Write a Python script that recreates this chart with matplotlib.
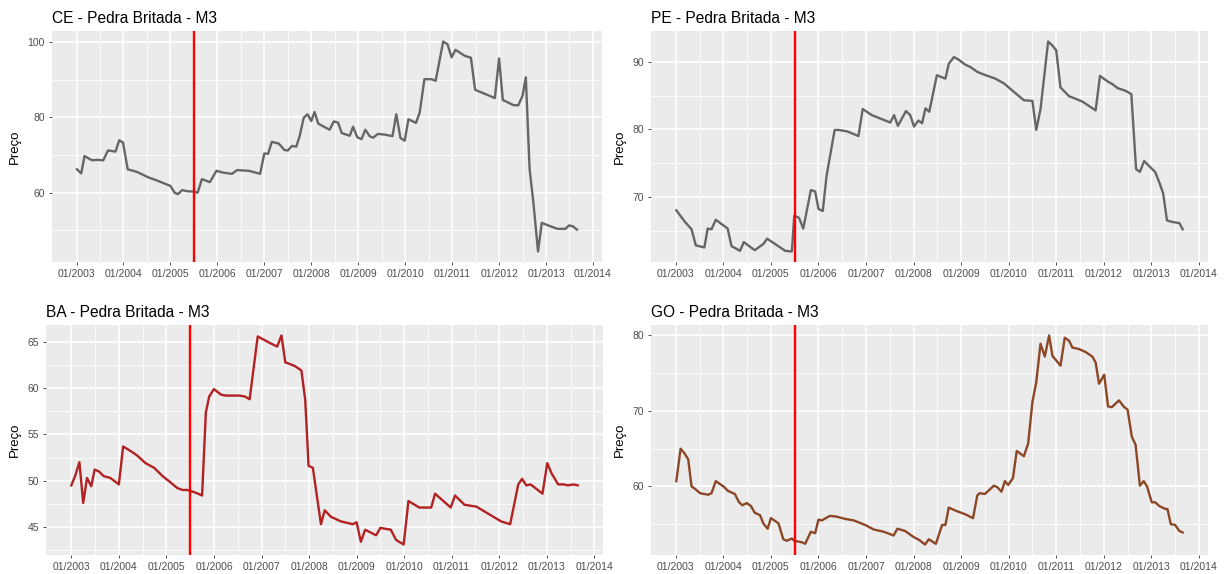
import matplotlib
matplotlib.use("Agg")
import matplotlib.pyplot as plt
from matplotlib.ticker import FixedLocator, NullFormatter

plt.rcParams['font.family'] = ['Liberation Sans', 'DejaVu Sans']

# ---------------- data (decimal year, price) ----------------
ce_t = [2003.01, 2003.10, 2003.17, 2003.33, 2003.44, 2003.57, 2003.67, 2003.83, 2003.91, 2003.99,
        2004.09, 2004.29, 2004.54, 2004.68, 2004.82, 2005.00, 2005.09, 2005.16, 2005.25, 2005.35,
        2005.50, 2005.58, 2005.67, 2005.84, 2005.98, 2006.13, 2006.31, 2006.42, 2006.67, 2006.91,
        2007.00, 2007.08, 2007.16, 2007.31, 2007.43, 2007.50, 2007.59, 2007.68, 2007.75, 2007.84,
        2007.92, 2008.00, 2008.07, 2008.15, 2008.39, 2008.48, 2008.57, 2008.65, 2008.82, 2008.89,
        2008.98, 2009.07, 2009.15, 2009.25, 2009.32, 2009.42, 2009.57, 2009.73, 2009.81, 2009.90,
        2009.99, 2010.07, 2010.23, 2010.31, 2010.41, 2010.56, 2010.65, 2010.81, 2010.90, 2010.99,
        2011.07, 2011.27, 2011.40, 2011.49, 2011.91, 2012.00, 2012.08, 2012.31, 2012.41, 2012.50,
        2012.57, 2012.65, 2012.73, 2012.83, 2012.91, 2013.09, 2013.25, 2013.41, 2013.49, 2013.57,
        2013.66]
ce_v = [66.2, 65.1, 69.7, 68.6, 68.7, 68.6, 71.2, 70.9, 73.9, 73.3,
        66.2, 65.5, 64.0, 63.4, 62.7, 61.8, 60.0, 59.6, 60.7, 60.4,
        60.3, 60.0, 63.6, 62.8, 65.8, 65.3, 65.0, 66.0, 65.8, 65.0,
        70.4, 70.3, 73.5, 73.0, 71.3, 71.2, 72.4, 72.2, 74.9, 79.9,
        80.8, 79.0, 81.4, 78.3, 76.7, 78.9, 78.6, 75.8, 75.1, 77.5,
        74.7, 74.2, 76.7, 74.9, 74.6, 75.6, 75.4, 75.0, 80.8, 74.5,
        73.8, 79.5, 78.5, 81.3, 90.1, 90.1, 89.7, 100.1, 99.4, 95.9,
        97.9, 96.3, 95.8, 87.3, 85.1, 95.6, 84.6, 83.2, 83.2, 85.7,
        90.6, 66.3, 57.5, 44.4, 52.0, 51.1, 50.4, 50.4, 51.3, 51.1,
        50.2]

pe_t = [2003.01, 2003.19, 2003.33, 2003.42, 2003.60, 2003.67, 2003.75, 2003.84, 2004.09, 2004.17,
        2004.35, 2004.43, 2004.52, 2004.66, 2004.84, 2004.92, 2005.09, 2005.30, 2005.44, 2005.49,
        2005.59, 2005.68, 2005.84, 2005.93, 2006.00, 2006.09, 2006.17, 2006.34, 2006.42, 2006.60,
        2006.84, 2006.93, 2007.12, 2007.30, 2007.51, 2007.59, 2007.67, 2007.84, 2007.93, 2008.01,
        2008.10, 2008.18, 2008.25, 2008.33, 2008.49, 2008.67, 2008.74, 2008.85, 2008.95, 2009.08,
        2009.20, 2009.34, 2009.48, 2009.72, 2009.90, 2010.15, 2010.32, 2010.50, 2010.58, 2010.67,
        2010.83, 2010.92, 2011.00, 2011.09, 2011.27, 2011.38, 2011.55, 2011.83, 2011.92, 2012.10,
        2012.18, 2012.29, 2012.46, 2012.58, 2012.68, 2012.76, 2012.85, 2012.99, 2013.08, 2013.17,
        2013.25, 2013.33, 2013.43, 2013.59, 2013.66]
pe_v = [68.0, 66.3, 65.2, 62.8, 62.5, 65.3, 65.2, 66.6, 65.3, 62.7,
        62.0, 63.3, 62.8, 62.1, 63.0, 63.8, 63.0, 62.0, 61.9, 67.2,
        66.9, 65.3, 71.0, 70.8, 68.2, 67.9, 73.1, 79.9, 79.9, 79.7,
        79.0, 83.0, 82.1, 81.6, 81.0, 82.1, 80.5, 82.7, 82.1, 80.4,
        81.3, 80.9, 83.1, 82.6, 88.0, 87.5, 89.7, 90.7, 90.3, 89.6,
        89.2, 88.5, 88.1, 87.5, 86.8, 85.3, 84.3, 84.2, 79.9, 83.0,
        93.0, 92.4, 91.7, 86.2, 84.9, 84.6, 84.1, 82.8, 87.9, 87.0,
        86.7, 86.1, 85.7, 85.2, 74.1, 73.7, 75.3, 74.3, 73.7, 72.1,
        70.5, 66.5, 66.3, 66.1, 65.2]

ba_t = [2003.00, 2003.08, 2003.17, 2003.25, 2003.33, 2003.42, 2003.49, 2003.58, 2003.68, 2003.82,
        2004.00, 2004.09, 2004.25, 2004.39, 2004.56, 2004.74, 2004.92, 2005.09, 2005.23, 2005.34,
        2005.44, 2005.62, 2005.75, 2005.83, 2005.90, 2006.00, 2006.15, 2006.25, 2006.39, 2006.54,
        2006.65, 2006.75, 2006.92, 2007.17, 2007.33, 2007.42, 2007.50, 2007.70, 2007.84, 2007.92,
        2007.99, 2008.08, 2008.25, 2008.33, 2008.46, 2008.67, 2008.92, 2009.00, 2009.09, 2009.18,
        2009.41, 2009.50, 2009.72, 2009.83, 2009.99, 2010.09, 2010.32, 2010.57, 2010.65, 2010.98,
        2011.07, 2011.27, 2011.52, 2012.04, 2012.23, 2012.40, 2012.48, 2012.57, 2012.66, 2012.91,
        2013.01, 2013.10, 2013.24, 2013.35, 2013.45, 2013.56, 2013.65]
ba_v = [49.5, 50.5, 52.0, 47.6, 50.3, 49.4, 51.2, 51.0, 50.5, 50.3,
        49.6, 53.7, 53.2, 52.7, 51.9, 51.4, 50.5, 49.8, 49.2, 49.0,
        49.0, 48.7, 48.4, 57.4, 59.1, 59.9, 59.3, 59.2, 59.2, 59.2,
        59.1, 58.8, 65.6, 64.9, 64.5, 65.7, 62.8, 62.4, 61.9, 58.7,
        51.6, 51.4, 45.3, 46.8, 46.1, 45.6, 45.3, 45.5, 43.4, 44.7,
        44.1, 44.9, 44.7, 43.6, 43.1, 47.8, 47.1, 47.1, 48.6, 47.1,
        48.4, 47.4, 47.2, 45.6, 45.3, 49.6, 50.2, 49.5, 49.6, 48.6,
        51.9, 50.8, 49.6, 49.6, 49.5, 49.6, 49.5]

go_t = [2003.01, 2003.10, 2003.18, 2003.26, 2003.33, 2003.40, 2003.51, 2003.68, 2003.75, 2003.84,
        2004.00, 2004.10, 2004.24, 2004.33, 2004.40, 2004.49, 2004.58, 2004.66, 2004.77, 2004.84,
        2004.93, 2005.00, 2005.16, 2005.26, 2005.33, 2005.44, 2005.49, 2005.65, 2005.72, 2005.84,
        2005.93, 2006.00, 2006.07, 2006.24, 2006.38, 2006.56, 2006.74, 2006.98, 2007.16, 2007.37,
        2007.58, 2007.66, 2007.82, 2008.00, 2008.12, 2008.24, 2008.32, 2008.47, 2008.60, 2008.67,
        2008.74, 2008.88, 2009.09, 2009.25, 2009.34, 2009.39, 2009.50, 2009.69, 2009.76, 2009.85,
        2009.92, 2009.99, 2010.09, 2010.17, 2010.32, 2010.41, 2010.50, 2010.58, 2010.67, 2010.76,
        2010.85, 2010.92, 2011.09, 2011.18, 2011.27, 2011.34, 2011.48, 2011.62, 2011.76, 2011.83,
        2011.90, 2012.01, 2012.09, 2012.17, 2012.32, 2012.43, 2012.50, 2012.59, 2012.67, 2012.76,
        2012.84, 2012.91, 2013.01, 2013.08, 2013.17, 2013.30, 2013.34, 2013.41, 2013.50, 2013.59,
        2013.66]
go_v = [60.7, 65.0, 64.4, 63.6, 60.0, 59.7, 59.1, 58.9, 59.1, 60.7,
        60.0, 59.4, 59.0, 57.9, 57.5, 57.8, 57.4, 56.5, 56.2, 55.1,
        54.4, 55.8, 55.1, 53.0, 52.8, 53.1, 52.8, 52.6, 52.4, 54.0,
        53.8, 55.6, 55.5, 56.1, 56.0, 55.7, 55.5, 54.9, 54.3, 54.0,
        53.5, 54.4, 54.1, 53.3, 52.9, 52.3, 53.0, 52.4, 54.9, 54.9,
        57.2, 56.8, 56.3, 55.8, 58.8, 59.1, 59.0, 60.1, 59.9, 59.3,
        60.7, 60.2, 61.1, 64.7, 64.0, 65.7, 71.2, 73.8, 78.9, 77.2,
        80.0, 77.3, 76.0, 79.7, 79.3, 78.4, 78.2, 77.8, 77.2, 76.4,
        73.6, 74.8, 70.6, 70.5, 71.4, 70.5, 70.2, 66.6, 65.5, 60.1,
        60.7, 60.0, 57.9, 57.9, 57.4, 57.0, 57.0, 55.0, 54.9, 54.1,
        53.9]

titles = ["CE - Pedra Britada - M3", "PE - Pedra Britada - M3",
          "BA - Pedra Britada - M3", "GO - Pedra Britada - M3"]
year_ticks = list(range(2003, 2015))
year_labels = ["01/%d" % y for y in year_ticks]
year_minor = [y + 0.5 for y in range(2003, 2014)]
intervention = 2005.5

ce_yticks, ce_yminor = [60, 80, 100], [50, 70, 90]
pe_yticks, pe_yminor = [70, 80, 90], [65, 75, 85]
ba_yticks, ba_yminor = [45, 50, 55, 60, 65], [42.5, 47.5, 52.5, 57.5, 62.5]
go_yticks, go_yminor = [60, 70, 80], [55, 65, 75]

# ---------------- figure ----------------
W, H = 1227, 574
fig = plt.figure(figsize=(W / 100, H / 100), dpi=100)
fig.patch.set_facecolor("white")

def rect(l, t, r, b):
    return [l / W, 1 - b / H, (r - l) / W, (b - t) / H]

panels = [
    (ce_t, ce_v, "#666666", titles[0], ce_yticks, ce_yminor, rect(52, 31, 602, 262)),
    (pe_t, pe_v, "#666666", titles[1], pe_yticks, pe_yminor, rect(651, 31, 1208, 262)),
    (ba_t, ba_v, "#B22222", titles[2], ba_yticks, ba_yminor, rect(46, 325, 603, 555)),
    (go_t, go_v, "#8B4726", titles[3], go_yticks, go_yminor, rect(651, 325, 1208, 555)),
]

for t, v, col, title, yt, ym, pos in panels:
    ax = fig.add_axes(pos)
    ax.set_facecolor("#EBEBEB")
    for s in ax.spines.values():
        s.set_visible(False)
    ax.plot(t, v, color=col, lw=1.7, solid_joinstyle="round", zorder=3)
    ax.axvline(intervention, color="#FF0000", lw=1.7, zorder=4)
    ax.margins(x=0.05, y=0.05)

    ax.xaxis.set_major_locator(FixedLocator(year_ticks))
    ax.set_xticklabels(year_labels)
    ax.xaxis.set_minor_locator(FixedLocator(year_minor))
    ax.yaxis.set_major_locator(FixedLocator(yt))
    ax.yaxis.set_minor_locator(FixedLocator(ym))
    ax.xaxis.set_minor_formatter(NullFormatter())
    ax.yaxis.set_minor_formatter(NullFormatter())

    ax.grid(which="major", color="white", lw=1.1, zorder=0)
    ax.grid(which="minor", color="white", lw=0.55, zorder=0)
    ax.set_axisbelow(True)

    ax.tick_params(which="major", length=2.5, width=0.6, color="#333333",
                   labelsize=7.5, labelcolor="#4D4D4D", pad=2.5)
    ax.tick_params(which="minor", length=0)

    ax.set_ylabel("Preço", fontsize=9.5, color="black", labelpad=5)
    ax.set_title(title, loc="left", fontsize=11.2, color="black", pad=6)

fig.savefig("out.png", dpi=100)
